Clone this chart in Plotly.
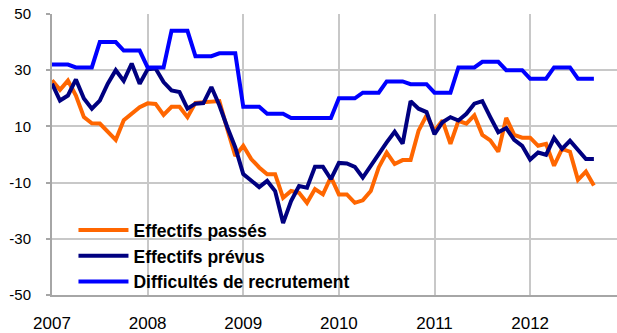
import plotly.graph_objects as go

# Monthly survey balances, Jan 2007 - Sep 2012
months = list(range(69))
year_ticks = [0, 12, 24, 36, 48, 60]
year_labels = ["2007", "2008", "2009", "2010", "2011", "2012"]
y_ticks = [-50, -30, -10, 10, 30, 50]
y_labels = ["-50", "-30", "-10", "10", "30", "50"]

effectifs_passes = [
    26.4, 23.0, 26.3, 21.0, 13.3, 11.1, 11.0, 8.2, 5.2, 12.2, 14.5, 16.8,
    18.2, 18.0, 14.1, 17.0, 17.0, 13.3, 18.4, 18.6, 18.6, 19.0, 9.0, -0.5,
    3.1, -1.6, -4.6, -7.0, -7.0, -15.4, -13.0, -13.6, -17.2, -12.3, -14.2, -8.0,
    -14.2, -14.2, -17.2, -16.3, -13.0, -4.6, 0.7, -3.4, -2.0, -2.0, 8.5, 13.9,
    8.5, 12.1, 3.8, 12.0, 11.0, 13.9, 7.0, 5.0, 1.0, 13.0, 7.0, 6.0,
    6.0, 3.1, 3.8, -4.0, 2.0, 1.0, -9.0, -6.1, -11.0,
]
effectifs_prevus = [
    25.2, 19.2, 21.0, 26.7, 19.9, 16.3, 19.2, 25.2, 30.0, 26.2, 32.4, 25.2,
    30.3, 30.6, 25.8, 22.8, 22.2, 16.3, 18.1, 18.3, 24.0, 17.5, 9.7, 2.5,
    -7.0, -9.4, -11.6, -9.4, -13.0, -24.4, -16.6, -11.2, -11.8, -4.4, -4.4, -8.8,
    -3.0, -3.2, -4.4, -8.2, -4.0, 0.7, 4.3, 8.1, 3.9, 19.0, 16.3, 15.1,
    7.2, 11.5, 13.3, 12.1, 14.5, 18.1, 19.0, 13.3, 7.9, 9.4, 5.2, 3.1,
    -1.8, 0.7, -0.1, 5.9, 2.0, 4.9, 1.6, -1.6, -1.6,
]
difficultes = [
    32, 32, 32, 31, 31, 31, 40, 40, 40, 37, 37, 37,
    31, 31, 31, 44, 44, 44, 35, 35, 35, 36, 36, 36,
    17, 17, 17, 14.5, 14.5, 14.5, 13, 13, 13, 13, 13, 13,
    20, 20, 20, 22, 22, 22, 26, 26, 26, 25, 25, 25,
    22, 22, 22, 31, 31, 31, 33, 33, 33, 30, 30, 30,
    27, 27, 27, 31, 31, 31, 27, 27, 27,
]

series = [
    ("Effectifs passés", effectifs_passes, "#FF6600"),
    ("Effectifs prévus", effectifs_prevus, "#000080"),
    ("Difficultés de recrutement", difficultes, "#0000FF"),
]

fig = go.Figure()
for name, values, color in series:
    fig.add_trace(go.Scatter(
        x=months, y=values, name=name, mode="lines",
        line=dict(color=color, width=4),
    ))

grid = "#C8C8C8"
axis = "#A6A6A6"

fig.update_layout(
    width=617, height=333,
    margin=dict(l=52, r=0, t=14, b=38),
    paper_bgcolor="white", plot_bgcolor="white",
    font=dict(family="Liberation Sans, Arial, sans-serif", color="black"),
    showlegend=True,
    legend=dict(
        x=0.038, y=-0.018, xanchor="left", yanchor="bottom",
        bgcolor="rgba(0,0,0,0)", borderwidth=0,
        font=dict(size=17.5, weight="bold", color="black"),
        itemwidth=50, tracegroupgap=0,
    ),
    xaxis=dict(
        range=[0, 70.9], tickvals=year_ticks, ticktext=year_labels,
        showgrid=True, gridcolor=grid, gridwidth=1.5,
        showline=True, linecolor=axis, linewidth=2,
        ticks="", tickfont=dict(size=17), ticklabelstandoff=12,
        zeroline=False,
    ),
    yaxis=dict(
        range=[-50, 50], tickvals=y_ticks, ticktext=y_labels,
        showgrid=True, gridcolor=grid, gridwidth=1.5,
        showline=True, linecolor=axis, linewidth=2,
        ticks="outside", ticklen=4, tickcolor=axis, tickwidth=1.5,
        tickfont=dict(size=15), ticklabelstandoff=12,
        zeroline=False,
    ),
)

# Keep the gridlines clear behind the legend text
fig.add_shape(type="rect", xref="paper", yref="paper", layer="between",
              x0=0.011, x1=0.56, y0=0.185, y1=0.215,
              fillcolor="white", line_width=0)
fig.add_shape(type="rect", xref="paper", yref="paper", layer="between",
              x0=0.49, x1=0.52, y0=0.005, y1=0.26,
              fillcolor="white", line_width=0)

fig.write_html("out.html")
